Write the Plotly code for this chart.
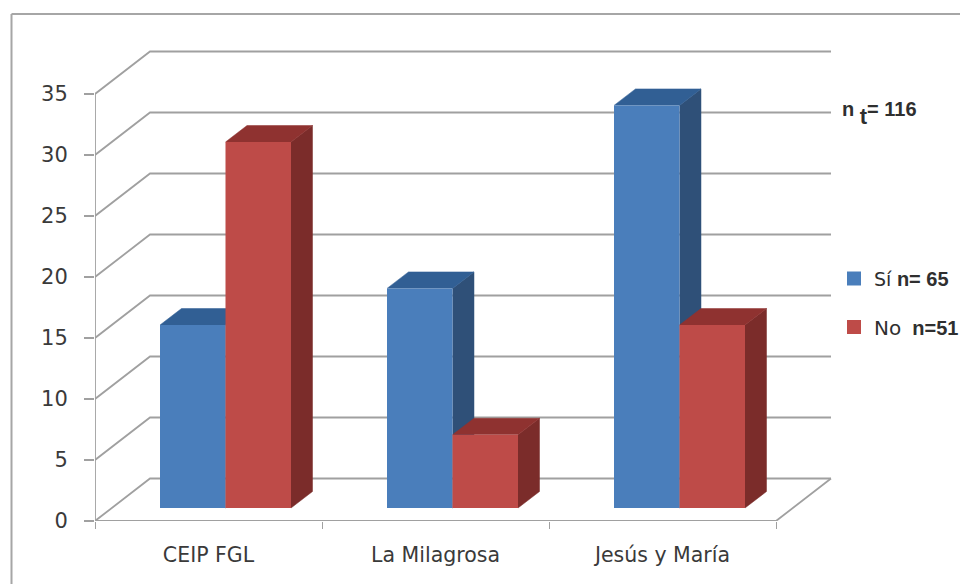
import plotly.graph_objects as go

categories = ["CEIP FGL", "La Milagrosa", "Jesús y María"]
si_values = [15, 18, 33]
no_values = [30, 6, 15]
y_ticks = [0, 5, 10, 15, 20, 25, 30, 35]
note_text = "<b>n <span style=\"font-size:22px;baseline-shift:-8px\">t</span>= 116</b>"
si_label = '<span style="font-family:\'DejaVu Sans\';font-weight:normal;font-size:19px">Sí</span> <b>n= 65</b>'
no_label = '<span style="font-family:\'DejaVu Sans\';font-weight:normal;font-size:20px">No</span>\u00a0\u00a0<b>n=51</b>'

W, H = 960, 584
L, R, B, T = 95, 845, 521, 40
PX_PER_CAT = (776 - 95) / 3
PX_PER_UNIT = (521 - 94) / 35
X_MAX = (R - L) / PX_PER_CAT
Y_MAX = (B - T) / PX_PER_UNIT

ux = lambda px: px / PX_PER_CAT
uy = lambda px: px / PX_PER_UNIT

WALL_DX, WALL_DY = ux(55), uy(42.5)
BAR_DX, BAR_DY = ux(21.5), uy(16.5)
FLOOR_Y = uy(13)
BAR_W = ux(65.5)
FIRST = ux(65)

GRID = "#a0a0a0"
BLUE, BLUE_TOP, BLUE_SIDE = "#4a7ebb", "#315f94", "#2f5078"
RED, RED_TOP, RED_SIDE = "#be4b48", "#8f3230", "#7b2c2a"

fig = go.Figure()


def poly(xs, ys, color, z):
    fig.add_trace(go.Scatter(x=xs, y=ys, mode="lines", fill="toself", fillcolor=color,
                             line=dict(color=color, width=0.5), hoverinfo="skip",
                             showlegend=False, zorder=z))


def line(xs, ys, z=0, width=1.8, color=GRID):
    fig.add_trace(go.Scatter(x=xs, y=ys, mode="lines", line=dict(color=color, width=width),
                             hoverinfo="skip", showlegend=False, zorder=z, cliponaxis=False))


n = len(categories)
for v in y_ticks:
    line([0, WALL_DX, n + WALL_DX], [v, v + WALL_DY, v + WALL_DY])
line([0, n, n + WALL_DX], [0, 0, WALL_DY])
line([0, 0], [0, 35])

xs_blue = [i + FIRST + BAR_W / 2 for i in range(n)]
xs_red = [i + FIRST + BAR_W * 1.5 for i in range(n)]

for i in range(n):
    l, r, v = i + FIRST, i + FIRST + BAR_W, si_values[i] + FLOOR_Y
    poly([r, r + BAR_DX, r + BAR_DX, r], [FLOOR_Y, FLOOR_Y + BAR_DY, v + BAR_DY, v], BLUE_SIDE, 1)
    poly([l, l + BAR_DX, r + BAR_DX, r], [v, v + BAR_DY, v + BAR_DY, v], BLUE_TOP, 1)

fig.add_trace(go.Bar(x=xs_blue, y=si_values, base=FLOOR_Y, width=BAR_W, showlegend=False,
                     marker=dict(color=BLUE, line=dict(width=0)), zorder=2, name="Sí"))

for i in range(n):
    l, r, v = i + FIRST + BAR_W, i + FIRST + 2 * BAR_W, no_values[i] + FLOOR_Y
    poly([r, r + BAR_DX, r + BAR_DX, r], [FLOOR_Y, FLOOR_Y + BAR_DY, v + BAR_DY, v], RED_SIDE, 3)
    poly([l, l + BAR_DX, r + BAR_DX, r], [v, v + BAR_DY, v + BAR_DY, v], RED_TOP, 3)

fig.add_trace(go.Bar(x=xs_red, y=no_values, base=FLOOR_Y, width=BAR_W, showlegend=False,
                     marker=dict(color=RED, line=dict(width=0)), zorder=4, name="No"))

# legend keys
fig.add_trace(go.Scatter(x=[None], y=[None], mode="markers", name=si_label, legend="legend",
                         marker=dict(symbol="square", size=14, color=BLUE)))
fig.add_trace(go.Scatter(x=[None], y=[None], mode="markers", name=no_label, legend="legend2",
                         marker=dict(symbol="square", size=14, color=RED)))

legend_common = dict(xanchor="left", yanchor="middle", xref="paper", yref="paper",
                     bgcolor="rgba(0,0,0,0)", itemsizing="trace", itemwidth=30,
                     font=dict(family="Liberation Sans", size=20, color="#2f2f2f"))

fig.update_layout(
    width=W, height=H, autosize=False,
    margin=dict(l=0, r=0, t=0, b=0, autoexpand=False),
    paper_bgcolor="white", plot_bgcolor="white",
    barmode="overlay",
    font=dict(family="Liberation Sans", size=15, color="#333333"),
    xaxis=dict(domain=[L / W, R / W], range=[0, X_MAX], showgrid=False, zeroline=False, automargin=False,
               tickmode="array", tickvals=[i + 0.5 for i in range(n)], ticktext=categories,
               ticks="", ticklabelstandoff=19, showline=False,
               minor=dict(tickmode="array", tickvals=list(range(n + 1)), ticks="outside", ticklen=7,
                          tickwidth=1.4, tickcolor=GRID, showgrid=False),
               tickfont=dict(family="DejaVu Sans", size=20.5, color="#3a3a3a")),
    yaxis=dict(domain=[1 - B / H, 1 - T / H], range=[0, Y_MAX], showgrid=False, zeroline=False, automargin=False,
               tickmode="array", tickvals=y_ticks, ticks="outside", ticklen=10, tickwidth=1.6,
               tickcolor=GRID, showline=False, ticklabelstandoff=12,
               tickfont=dict(family="DejaVu Sans", size=21, color="#3a3a3a")),
    legend=dict(x=834 / W, y=1 - 278.5 / H, **legend_common),
    legend2=dict(x=834 / W, y=1 - 327 / H, **legend_common),
    shapes=[dict(type="line", xref="paper", yref="paper", x0=11.5 / W, x1=11.5 / W,
                 y0=0, y1=1 - 14 / H, line=dict(color="#a6a6a6", width=2), layer="below"),
            dict(type="line", xref="paper", yref="paper", x0=11.5 / W, x1=1,
                 y0=1 - 14 / H, y1=1 - 14 / H, line=dict(color="#a6a6a6", width=2), layer="below")],
    annotations=[dict(xref="paper", yref="paper", x=840 / W, y=1 - 113 / H, xanchor="left",
                      yanchor="middle", showarrow=False, text=note_text,
                      font=dict(family="Liberation Sans", size=20, color="#2f2f2f"))],
)

fig.write_html("out.html", config={"displayModeBar": False},
               post_script="document.body.style.margin='0';document.documentElement.style.overflow='hidden';")
